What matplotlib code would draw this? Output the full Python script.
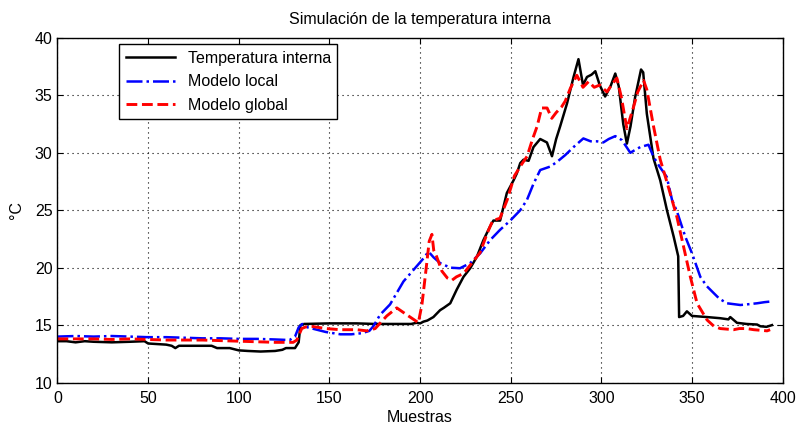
import matplotlib
matplotlib.use("Agg")
import matplotlib.pyplot as plt

# Temperatura interna (medida)
x_real = [0, 5, 10, 15, 20, 30, 40, 48, 50, 55, 60, 63, 65, 67, 75, 85, 88, 95,
          100, 105, 112, 120, 124, 126, 131, 133, 134, 136, 150, 165, 175, 185,
          195, 198, 200, 201.8, 204, 207.3, 211, 213, 216.6, 220.2, 223.9, 227.6,
          231.3, 234.9, 238.6, 240.4, 244.1, 247.8, 251.5, 253.3, 255.2, 257,
          259.8, 262.5, 266.2, 269.9, 272.7, 275, 277.2, 281, 284.6, 287.3, 289.8,
          292, 294.5, 296.6, 299, 302, 305, 307.6, 309.5, 312, 314, 316, 318.5,
          321.8, 323, 325, 328.7, 332.4, 336.1, 339.8, 342.3, 342.8, 345, 347.1,
          349.9, 358.2, 365.5, 370, 371, 374.7, 380, 385.8, 387.6, 391, 394]
y_real = [13.6, 13.6, 13.5, 13.6, 13.55, 13.5, 13.55, 13.6, 13.4, 13.35, 13.3,
          13.2, 13.0, 13.2, 13.2, 13.2, 13.0, 13.0, 12.8, 12.75, 12.7, 12.75,
          12.85, 13.0, 13.0, 13.5, 15.0, 15.1, 15.15, 15.15, 15.1, 15.1, 15.1,
          15.2, 15.15, 15.3, 15.4, 15.7, 16.3, 16.5, 16.9, 18.1, 19.2, 19.95,
          20.96, 22.4, 23.6, 24.1, 24.1, 26.5, 27.6, 28.2, 29.1, 29.4, 29.3, 30.5,
          31.2, 30.9, 29.7, 31.2, 32.3, 34.3, 36.6, 38.15, 35.9, 36.6, 36.8, 37.1,
          35.9, 34.9, 35.8, 36.9, 35.8, 32.5, 30.8, 32.3, 34.8, 37.25, 37.0, 33.4,
          29.5, 27.6, 25.0, 22.7, 21.0, 15.7, 15.8, 16.2, 15.8, 15.7, 15.6, 15.5,
          15.7, 15.2, 15.1, 15.05, 14.9, 14.85, 15.0]

# Modelo local
x_local = [0, 10, 20, 30, 40, 50, 60, 70, 80, 90, 100, 110, 120, 128, 131, 133,
           135, 138, 143, 148, 152, 156, 162, 168, 172, 174.2, 177.9, 183.4,
           190.8, 196.3, 201.8, 204.6, 207.4, 211, 216.6, 222, 227.6, 233.1,
           238.6, 244.1, 249.7, 255.2, 258.9, 262.5, 266.2, 271.7, 275.4, 280,
           284.6, 290, 294, 297.5, 301, 304, 307.6, 311.3, 315.9, 318, 321.4,
           325.9, 328.7, 332, 336, 338.9, 341.6, 346.2, 349.9, 354.5, 358, 361.8,
           365, 369.2, 376.6, 380, 385.8, 390, 393.1]
y_local = [14.0, 14.05, 14.0, 14.05, 14.0, 13.95, 13.95, 13.9, 13.85, 13.85, 13.8,
           13.8, 13.75, 13.7, 14.0, 14.8, 15.1, 14.8, 14.6, 14.4, 14.3, 14.2, 14.2,
           14.3, 14.5, 14.9, 15.9, 16.8, 18.8, 19.8, 20.8, 21.4, 20.9, 20.4, 20.0,
           19.95, 20.4, 21.25, 22.4, 23.3, 24.1, 25.0, 25.9, 27.3, 28.5, 28.8,
           29.2, 29.8, 30.5, 31.25, 31.0, 31.0, 30.9, 31.2, 31.45, 31.1, 30.0,
           30.2, 30.5, 30.7, 29.65, 28.8, 27.9, 25.9, 24.9, 22.7, 21.25, 19.2,
           18.4, 17.8, 17.3, 16.9, 16.75, 16.8, 16.9, 17.0, 17.05]

# Modelo global
x_global = [0, 10, 20, 30, 40, 50, 60, 70, 80, 90, 100, 110, 120, 130, 132, 134.7,
            137, 141, 148, 155.9, 165, 170.6, 175.2, 181.6, 187.1, 192.6, 198.2,
            199, 201, 203, 205, 206.5, 207.5, 209, 212, 215, 217.5, 220, 224,
            228, 233, 237, 240, 244, 248, 252, 256, 259, 262, 264.5, 267, 270,
            272.6, 275, 278, 280, 282.8, 286.4, 289.8, 292.9, 296, 299, 303, 306,
            308.5, 311, 314, 317.7, 320, 323.2, 325, 328.7, 332.4, 336, 341.6,
            345.3, 349, 352.7, 358.2, 362, 365.5, 372.9, 376, 380, 384, 391.3, 393]
y_global = [13.8, 13.8, 13.8, 13.75, 13.8, 13.75, 13.7, 13.7, 13.7, 13.65, 13.6,
            13.55, 13.5, 13.5, 13.7, 14.7, 14.85, 14.87, 14.7, 14.6, 14.6, 14.5,
            14.7, 15.8, 16.5, 15.9, 15.3, 15.2, 16.8, 19.5, 22.3, 22.9, 21.5, 21.0,
            19.7, 19.1, 18.9, 19.2, 19.5, 20.3, 21.3, 23.0, 24.1, 24.3, 25.9, 28.0,
            29.0, 29.7, 31.2, 32.3, 33.9, 33.9, 33.0, 33.5, 34.0, 34.5, 35.6, 36.75,
            35.7, 36.2, 35.7, 35.9, 35.3, 36.0, 36.5, 34.8, 32.1, 34.0, 35.3, 36.3,
            35.5, 32.3, 29.4, 27.5, 24.4, 21.8, 19.2, 16.9, 15.45, 14.9, 14.7,
            14.6, 14.7, 14.7, 14.6, 14.5, 14.6]

x_ticks = [0, 50, 100, 150, 200, 250, 300, 350, 400]
y_ticks = [10, 15, 20, 25, 30, 35, 40]

plt.rcParams['font.family'] = ['Liberation Sans', 'DejaVu Sans']
plt.rcParams['font.size'] = 11.5

fig = plt.figure(figsize=(7.98, 4.26), dpi=100)
ax = fig.add_axes([0.072, 0.102, 0.909, 0.809])

ax.plot(x_real, y_real, color='black', lw=1.8, label='Temperatura interna')
ax.plot(x_local, y_local, color='blue', lw=1.8, ls='-.', label='Modelo local')
ax.plot(x_global, y_global, color='red', lw=2.1, ls='--', label='Modelo global')

ax.set_xlim(0, 400)
ax.set_ylim(10, 40)
ax.set_xticks(x_ticks)
ax.set_yticks(y_ticks)
ax.grid(True, color='black', ls=(0, (1, 3.5)), lw=0.8)
ax.tick_params(direction='in', top=True, right=True, length=4, labelsize=11.5)
ax.tick_params(axis='x', pad=6)
for s in ax.spines.values():
    s.set_linewidth(1)

ax.set_title('Simulación de la temperatura interna', fontsize=11.5, pad=10)
ax.set_xlabel('Muestras', fontsize=11.5, labelpad=3)
ax.set_ylabel('°C', fontsize=11.5, labelpad=8)

leg = ax.legend(loc='upper left', bbox_to_anchor=(0.085, 0.982), fancybox=False,
                framealpha=1, edgecolor='black', handlelength=3.1,
                borderaxespad=0, fontsize=11.5, labelspacing=0.55)
leg.get_frame().set_linewidth(1)

fig.savefig('out.png', dpi=100)
